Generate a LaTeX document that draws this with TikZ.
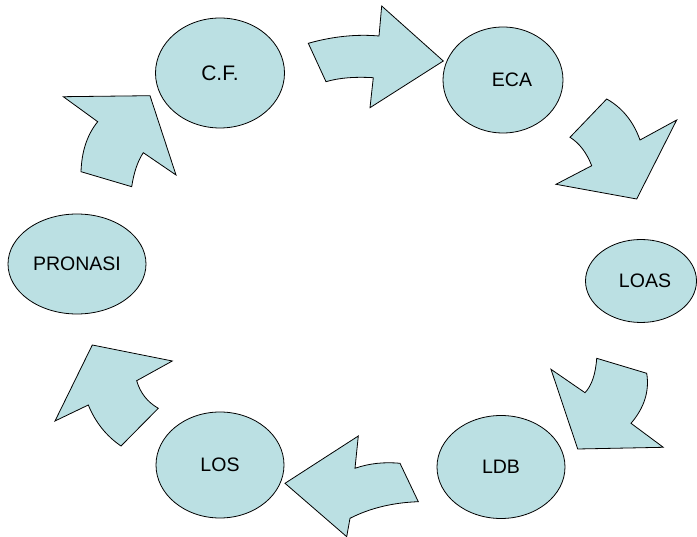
\documentclass[tikz,border=0pt]{standalone}
\usepackage{fontspec}
\setmainfont{Liberation Sans}
\usetikzlibrary{shapes.geometric}
\definecolor{paleteal}{RGB}{187,224,227}
\begin{document}
\begin{tikzpicture}[x=1pt,y=-1pt,
  bubble/.style={ellipse,draw=black,fill=paleteal,line width=0.8pt,inner sep=0pt,font=\fontsize{19.5}{22}\selectfont},
  bentarrow/.style={draw=black,fill=paleteal,line width=0.8pt,line join=miter}]
\useasboundingbox (0,0) rectangle (697,537);

% stations of the cycle
\node[bubble,minimum width=129pt,minimum height=110pt,font=\fontsize{21}{24}\selectfont] (cf) at (220,73) {C.F.};
\node[bubble,minimum width=120pt,minimum height=106pt] (eca) at (503,80) {\hspace*{18pt}ECA};
\node[bubble,minimum width=111pt,minimum height=83pt] (loas) at (641,281) {\hspace*{8pt}LOAS};
\node[bubble,minimum width=128pt,minimum height=103pt] (ldb) at (501,467) {LDB};
\node[bubble,minimum width=128pt,minimum height=106pt] (los) at (220,465) {LOS};
\node[bubble,minimum width=138pt,minimum height=100pt] (pronasi) at (77,264) {PRONASI};

% curved block arrows between the stations
% C.F. -> ECA
\draw[bentarrow] (308.3,43.3) .. controls (332.8,36.4) and (356.3,34) .. (379,36) -- (381.7,6) -- (443.3,61)
  -- (370,107.7) -- (373.3,77.7) .. controls (354.4,76.6) and (338.7,77.9) .. (326,81.7) -- cycle;
% ECA -> LOAS
\draw[bentarrow] (606.7,99) .. controls (622.2,107.7) and (633.3,121.3) .. (640,140) -- (676.7,120) -- (636.7,199)
  -- (556,184.3) -- (591.7,165.7) .. controls (586.6,152.6) and (579.3,143.1) .. (570,137.3) -- cycle;
% LOAS -> LDB
\draw[bentarrow] (596.7,358.3) -- (646.7,373.3) .. controls (649.6,391.1) and (644.3,407.8) .. (631,423.3)
  -- (663.3,447.3) -- (577.7,449) -- (551,369.3) -- (585,392.7) .. controls (591.7,385.6) and (595.6,374.1) .. cycle;
% LDB -> LOS
\draw[bentarrow] (400,463.3) -- (418.3,501.7) .. controls (392.8,502.6) and (370,508.1) .. (350,518.3)
  -- (346.7,536.7) -- (285,483.3) -- (358.3,436) -- (355,468.3) .. controls (369,463.4) and (384,461.8) .. cycle;
% LOS -> PRONASI
\draw[bentarrow] (92.3,345) -- (172.3,361) -- (136.7,380.7) .. controls (140.2,392.9) and (147.4,402.1) .. (158.3,408.3)
  -- (121,446) .. controls (106.3,436) and (95.4,422.3) .. (88.3,405) -- (55,421) -- cycle;
% PRONASI -> C.F.
\draw[bentarrow] (63.3,96.7) -- (150,95.7) -- (176,175) -- (143.3,152.7) .. controls (137.8,160.9) and (133.9,172.2) .. (131.7,186.7)
  -- (81,171.7) .. controls (81.7,151.2) and (87.2,134.6) .. (97.7,121.7) -- cycle;
\end{tikzpicture}
\end{document}
